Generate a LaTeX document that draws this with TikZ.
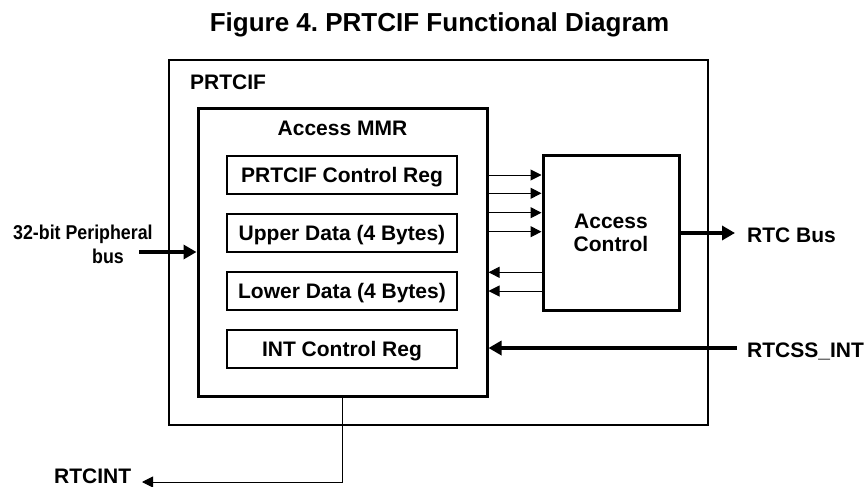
\documentclass[tikz,border=0pt]{standalone}
\usepackage{fontspec}
\setmainfont{Liberation Sans}
\newfontfamily\narrowfont[FakeStretch=0.89]{Liberation Sans}
\usetikzlibrary{arrows.meta}
\frenchspacing
\begin{document}
\begin{tikzpicture}[x=1pt,y=-1pt,
  lbl/.style={font=\fontsize{21}{23}\selectfont\bfseries, inner sep=0pt},
  regbox/.style={lbl, draw, line width=2pt, minimum width=230pt, minimum height=38pt,
                 text height=15pt, text depth=0pt},
  thinarr/.style={line width=1pt, -{Triangle[length=11pt,width=11pt]}},
  thickarr/.style={line width=4.5pt, -{Triangle[length=13pt,width=14pt]}}
]
\useasboundingbox (0,0) rectangle (865,487);

\node[font=\fontsize{26}{30}\selectfont\bfseries, anchor=base, inner sep=0pt] (title) at (439.5,32) {Figure 4.\ PRTCIF Functional Diagram};

% outer PRTCIF block
\node[draw, line width=1.5pt, minimum width=539pt, minimum height=365pt, inner sep=0pt] (outer) at (438.5,242.5) {};
\node[lbl, anchor=base west] (prtcif) at (190,89) {PRTCIF};

% Access MMR block
\node[draw, line width=3pt, minimum width=289pt, minimum height=288pt, inner sep=0pt] (mmr) at (342.5,252) {};
\node[lbl, anchor=base] (mmrlbl) at (342.5,135) {Access MMR};

\node[regbox] (r1) at (342,175) {PRTCIF Control Reg};
\node[regbox] (r2) at (342,233) {Upper Data (4 Bytes)};
\node[regbox] (r3) at (342,291) {Lower Data (4 Bytes)};
\node[regbox] (r4) at (342,348.5) {INT Control Reg};

% Access Control block
\node[lbl, draw, line width=3pt, minimum width=136pt, minimum height=155pt, align=center] (ac) at (611,232.5) {Access\\Control};

% arrows MMR -> Access Control
\foreach \i/\y in {1/175,2/193.3,3/212.7,4/231.7} {
  \coordinate (f\i) at (0,\y);
  \draw[thinarr] (mmr.east |- f\i) -- (ac.west |- f\i);
}
% arrows Access Control -> MMR
\foreach \i/\y in {1/272.3,2/291} {
  \coordinate (b\i) at (0,\y);
  \draw[thinarr] (ac.west |- b\i) -- (mmr.east |- b\i);
}

% RTC Bus
\coordinate (rtcb) at (735,233);
\draw[thickarr] (ac.east |- rtcb) -- (rtcb);
\node[lbl, anchor=base west] (rtcbl) at (747,242) {RTC Bus};

% RTCSS_INT
\coordinate (rs) at (737,348);
\draw[thickarr] (rs) -- (rs -| mmr.east);
\node[lbl, anchor=base west] (rsl) at (747,357) {RTCSS\_INT};

% peripheral bus
\coordinate (pb) at (139,252);
\draw[thickarr] (pb) -- (pb -| mmr.west);
\node[font=\fontsize{20}{23}\selectfont\narrowfont\bfseries, inner sep=0pt, anchor=base west] (pbl1) at (13,239) {32-bit Peripheral};
\node[font=\fontsize{20}{23}\selectfont\narrowfont\bfseries, inner sep=0pt, anchor=base west] (pbl2) at (92,263) {bus};

% RTCINT
\coordinate (ri) at (142,482);
\draw[thinarr] (mmr.south) |- (ri);
\node[lbl, anchor=base west] (ril) at (54,483) {RTCINT};
\end{tikzpicture}
\end{document}
